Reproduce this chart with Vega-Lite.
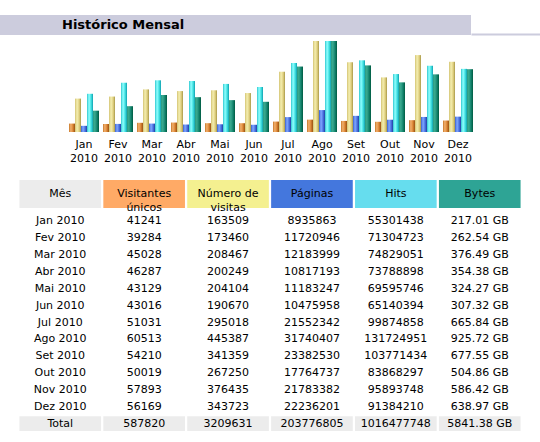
{
  "$schema": "https://vega.github.io/schema/vega-lite/v6.json",
  "padding": {"left": 0, "right": 0, "top": 15, "bottom": 0},
  "autosize": {"type": "pad"},
  "background": "white",
  "config": {"view": {"stroke": null}, "font": "DejaVu Sans"},
  "datasets": {
    "tabela": [
      {"mes": "Jan 2010", "u": 41241, "v": 163509, "p": 8935863, "h": 55301438, "k": 217.01, "bytes": "217.01 GB"},
      {"mes": "Fev 2010", "u": 39284, "v": 173460, "p": 11720946, "h": 71304723, "k": 262.54, "bytes": "262.54 GB"},
      {"mes": "Mar 2010", "u": 45028, "v": 208467, "p": 12183999, "h": 74829051, "k": 376.49, "bytes": "376.49 GB"},
      {"mes": "Abr 2010", "u": 46287, "v": 200249, "p": 10817193, "h": 73788898, "k": 354.38, "bytes": "354.38 GB"},
      {"mes": "Mai 2010", "u": 43129, "v": 204104, "p": 11183247, "h": 69595746, "k": 324.27, "bytes": "324.27 GB"},
      {"mes": "Jun 2010", "u": 43016, "v": 190670, "p": 10475958, "h": 65140394, "k": 307.32, "bytes": "307.32 GB"},
      {"mes": "Jul 2010", "u": 51031, "v": 295018, "p": 21552342, "h": 99874858, "k": 665.84, "bytes": "665.84 GB"},
      {"mes": "Ago 2010", "u": 60513, "v": 445387, "p": 31740407, "h": 131724951, "k": 925.72, "bytes": "925.72 GB"},
      {"mes": "Set 2010", "u": 54210, "v": 341359, "p": 23382530, "h": 103771434, "k": 677.55, "bytes": "677.55 GB"},
      {"mes": "Out 2010", "u": 50019, "v": 267250, "p": 17764737, "h": 83868297, "k": 504.86, "bytes": "504.86 GB"},
      {"mes": "Nov 2010", "u": 57893, "v": 376435, "p": 21783382, "h": 95893748, "k": 586.42, "bytes": "586.42 GB"},
      {"mes": "Dez 2010", "u": 56169, "v": 343723, "p": 22236201, "h": 91384210, "k": 638.97, "bytes": "638.97 GB"},
      {"mes": "Total", "u": 587820, "v": 3209631, "p": 203776805, "h": 1016477748, "k": 5841.38, "bytes": "5841.38 GB"}
    ],
    "cabecalho": [
      {"col": "mes", "label": "Mês"},
      {"col": "u", "label": "Visitantes\núnicos"},
      {"col": "v", "label": "Número de\nvisitas"},
      {"col": "p", "label": "Páginas"},
      {"col": "h", "label": "Hits"},
      {"col": "bytes", "label": "Bytes"}
    ]
  },
  "spacing": 17,
  "vconcat": [
    {
      "spacing": 0,
      "vconcat": [
        {
          "spacing": 0,
          "hconcat": [
            {
              "width": 471,
              "height": 20,
              "view": {"fill": "#ccccdd", "stroke": null},
              "data": {"values": [{"titulo": "Histórico Mensal"}]},
              "mark": {"type": "text", "align": "left", "baseline": "middle", "x": 62, "fontSize": 13, "fontWeight": "bold", "color": "#000000", "font": "DejaVu Sans"},
              "encoding": {"text": {"field": "titulo", "type": "nominal"}}
            },
            {
              "width": 69,
              "height": 20,
              "data": {"values": [{"a": 0}]},
              "mark": {"type": "text", "text": ""},
              "encoding": {
                "x": {"field": "a", "type": "quantitative", "scale": {"domain": [0, 1]}, "axis": {"title": null, "labels": false, "ticks": false, "grid": false, "domain": true, "domainColor": "#ccccdd", "domainWidth": 2, "offset": -1}}
              }
            }
          ]
        },
        {
          "width": 540,
          "height": 97,
          "data": {"name": "tabela"},
          "transform": [
            {"filter": "datum.mes != 'Total'"},
            {"fold": ["u", "v", "p", "h", "k"], "as": ["serie", "valor"]}
          ],
          "encoding": {
            "x": {
              "field": "mes", "type": "nominal",
              "scale": {"domain": ["Jan 2010", "Fev 2010", "Mar 2010", "Abr 2010", "Mai 2010", "Jun 2010", "Jul 2010", "Ago 2010", "Set 2010", "Out 2010", "Nov 2010", "Dez 2010"], "range": [69, 473], "paddingInner": 0.118, "paddingOuter": 0},
              "axis": {"title": null, "domain": false, "ticks": false, "labelAngle": 0, "labelPadding": 6.5, "labelFont": "DejaVu Sans", "labelFontSize": 11, "labelColor": "#000000", "labelLineHeight": 13.5, "labelExpr": "split(datum.label, ' ')"}
            },
            "xOffset": {"field": "serie", "type": "nominal", "scale": {"domain": ["u", "v", "p", "h", "k"], "paddingInner": 0, "paddingOuter": 0}}
          },
          "layer": [
            {
              "transform": [{"filter": "datum.serie == 'u'"}],
              "mark": {"type": "bar", "color": {"gradient": "linear", "x1": 0, "x2": 1, "y1": 0, "y2": 0, "stops": [{"offset": 0, "color": "#c87828"}, {"offset": 0.3, "color": "#f0b070"}, {"offset": 0.6, "color": "#e08c3c"}, {"offset": 1, "color": "#9a5010"}]}},
              "encoding": {"y": {"field": "valor", "type": "quantitative", "scale": {"domain": [0, 474751], "nice": false}, "axis": null}}
            },
            {
              "transform": [{"filter": "datum.serie == 'v'"}],
              "mark": {"type": "bar", "color": {"gradient": "linear", "x1": 0, "x2": 1, "y1": 0, "y2": 0, "stops": [{"offset": 0, "color": "#d4c474"}, {"offset": 0.35, "color": "#f4eeb0"}, {"offset": 0.7, "color": "#e0d080"}, {"offset": 1, "color": "#a89848"}]}},
              "encoding": {"y": {"field": "valor", "type": "quantitative", "scale": {"domain": [0, 474751], "nice": false}, "axis": null}}
            },
            {
              "transform": [{"filter": "datum.serie == 'p'"}],
              "mark": {"type": "bar", "color": {"gradient": "linear", "x1": 0, "x2": 1, "y1": 0, "y2": 0, "stops": [{"offset": 0, "color": "#3a60d0"}, {"offset": 0.35, "color": "#80a8ff"}, {"offset": 0.7, "color": "#4a70e0"}, {"offset": 1, "color": "#2040a0"}]}},
              "encoding": {"y": {"field": "valor", "type": "quantitative", "scale": {"domain": [0, 140409000], "nice": false}, "axis": null}}
            },
            {
              "transform": [{"filter": "datum.serie == 'h'"}],
              "mark": {"type": "bar", "color": {"gradient": "linear", "x1": 0, "x2": 1, "y1": 0, "y2": 0, "stops": [{"offset": 0, "color": "#30c8d0"}, {"offset": 0.35, "color": "#90ffff"}, {"offset": 0.7, "color": "#40e0e0"}, {"offset": 1, "color": "#10a0b0"}]}},
              "encoding": {"y": {"field": "valor", "type": "quantitative", "scale": {"domain": [0, 140409000], "nice": false}, "axis": null}}
            },
            {
              "transform": [{"filter": "datum.serie == 'k'"}],
              "mark": {"type": "bar", "color": {"gradient": "linear", "x1": 0, "x2": 1, "y1": 0, "y2": 0, "stops": [{"offset": 0, "color": "#2a9a80"}, {"offset": 0.3, "color": "#3aaa90"}, {"offset": 0.7, "color": "#10806a"}, {"offset": 1, "color": "#005a40"}]}},
              "encoding": {"y": {"field": "valor", "type": "quantitative", "scale": {"domain": [0, 986.75], "nice": false}, "axis": null}}
            }
          ],
          "resolve": {"scale": {"y": "independent"}}
        }
      ]
    },
    {
      "spacing": 0,
      "vconcat": [
        {
          "width": 540,
          "height": 28,
          "data": {"name": "cabecalho"},
          "encoding": {
            "x": {"field": "col", "type": "nominal", "scale": {"domain": ["mes", "u", "v", "p", "h", "bytes"], "paddingInner": 0.027, "paddingOuter": 0.2315}, "axis": null}
          },
          "layer": [
            {
              "mark": {"type": "rect"},
              "encoding": {
                "color": {"field": "col", "type": "nominal", "scale": {"domain": ["mes", "u", "v", "p", "h", "bytes"], "range": ["#ececec", "#ffaa66", "#f4f090", "#4477dd", "#66ddee", "#2ea495"]}, "legend": null}
              }
            },
            {
              "mark": {"type": "text", "align": "center", "baseline": "middle", "lineBreak": "\n", "lineHeight": 13.5, "fontSize": 11, "color": "#000000", "font": "DejaVu Sans"},
              "encoding": {"text": {"field": "label", "type": "nominal"}}
            }
          ]
        },
        {
          "width": 540,
          "height": 219,
          "data": {"name": "tabela"},
          "transform": [{"fold": ["mes", "u", "v", "p", "h", "bytes"], "as": ["coluna", "valor"]}],
          "encoding": {
            "x": {"field": "coluna", "type": "nominal", "scale": {"domain": ["mes", "u", "v", "p", "h", "bytes"], "paddingInner": 0.027, "paddingOuter": 0.2315}, "axis": null},
            "y": {"field": "mes", "type": "nominal", "scale": {"domain": ["Jan 2010", "Fev 2010", "Mar 2010", "Abr 2010", "Mai 2010", "Jun 2010", "Jul 2010", "Ago 2010", "Set 2010", "Out 2010", "Nov 2010", "Dez 2010", "Total"], "paddingInner": 0.12, "paddingOuter": 0.06}, "axis": null}
          },
          "layer": [
            {
              "transform": [{"filter": "datum.mes == 'Total'"}],
              "mark": {"type": "rect", "color": "#ececec"}
            },
            {
              "mark": {"type": "text", "align": "center", "baseline": "middle", "fontSize": 11, "color": "#000000", "font": "DejaVu Sans"},
              "encoding": {"text": {"field": "valor", "type": "nominal"}}
            }
          ]
        }
      ]
    }
  ]
}
